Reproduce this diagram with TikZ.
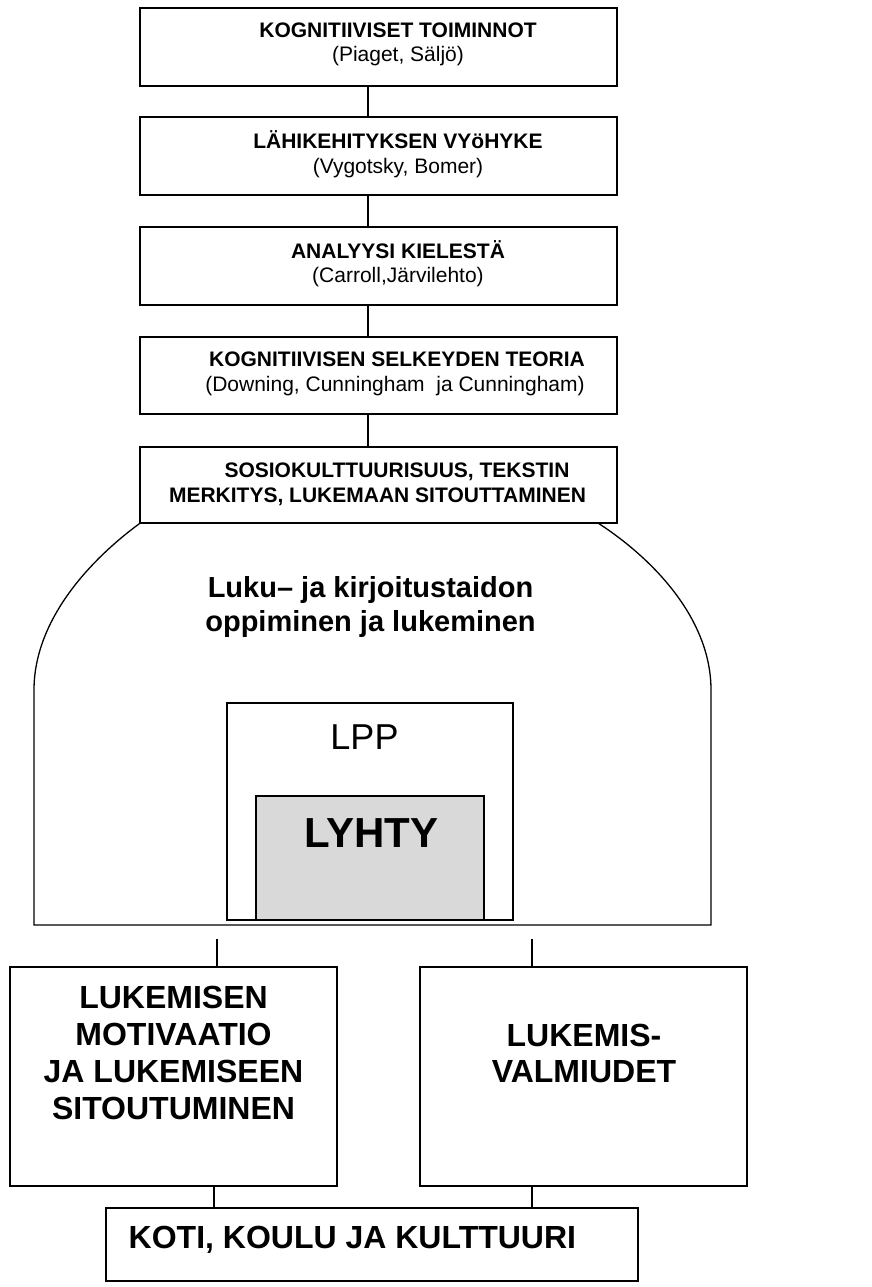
\documentclass[tikz,border=0pt]{standalone}
\usepackage{fontspec}
\setmainfont{Liberation Sans}
\begin{document}
\begin{tikzpicture}[x=1pt,y=-1pt,
  box/.style={draw=black, line width=1.5pt, rectangle, inner sep=0pt, fill=white},
  conn/.style={draw=black, line width=1.3pt},
  txt/.style={anchor=base, inner sep=0pt, align=center},
  hsmall/.style={font=\fontsize{21}{25}\selectfont\bfseries},
  rsmall/.style={font=\fontsize{21}{25}\selectfont},
  hbig/.style={font=\fontsize{32}{37}\selectfont\bfseries},
  htitle/.style={font=\fontsize{29}{34}\selectfont\bfseries}]
\useasboundingbox (0,0) rectangle (871,1287);
% top chain of boxes
\node[box, minimum width=477, minimum height=78] (b1) at (378.5,47) {};
\node[box, minimum width=477, minimum height=78] (b2) at (378.5,156) {};
\node[box, minimum width=477, minimum height=78] (b3) at (378.5,266) {};
\node[box, minimum width=477, minimum height=77] (b4) at (378.5,375.5) {};
\node[box, minimum width=477, minimum height=76] (b5) at (378.5,485) {};
% connectors
\draw[conn] (368,0 |- b1.south) -- (368,0 |- b2.north);
\draw[conn] (368,0 |- b2.south) -- (368,0 |- b3.north);
\draw[conn] (368,0 |- b3.south) -- (368,0 |- b4.north);
\draw[conn] (368,0 |- b4.south) -- (368,0 |- b5.north);
% texts
\node[txt, hsmall] (t1a) at (398,38) {KOGNITIIVISET TOIMINNOT};
\node[txt, rsmall] (t1b) at (398,62) {(Piaget, Säljö)};
\node[txt, hsmall] (t2a) at (398,148) {LÄHIKEHITYKSEN VYöHYKE};
\node[txt, rsmall] (t2b) at (398,173) {(Vygotsky, Bomer)};
\node[txt, hsmall] (t3a) at (398,258) {ANALYYSI KIELESTÄ};
\node[txt, rsmall] (t3b) at (398,282) {(Carroll,Järvilehto)};
\node[txt, hsmall] (t4a) at (397,366) {KOGNITIIVISEN SELKEYDEN TEORIA};
\node[txt, rsmall] (t4b) at (395,391) {(Downing, Cunningham\ \ ja Cunningham)};
\node[txt, hsmall] (t5a) at (397,477) {SOSIOKULTTUURISUUS, TEKSTIN};
\node[txt, hsmall] (t5b) at (377.5,502) {MERKITYS, LUKEMAAN SITOUTTAMINEN};
% arch
\coordinate (archR) at (598,523);
\draw[line width=1.3pt, line join=miter]
  (b5.south west) .. controls (90,560) and (34,620) .. (34,690)
  -- (34,925) -- (711,925) -- (711,690)
  .. controls (711,620) and (655,560) .. (archR);
\node[txt, htitle] (title1) at (370.5,597) {Luku– ja kirjoitustaidon};
\node[txt, htitle] (title2) at (370.5,631) {oppiminen ja lukeminen};
% LPP and LYHTY
\node[box, line width=1.3pt, minimum width=286, minimum height=217] (lpp) at (370,811.5) {};
\node[box, line width=1.3pt, fill={rgb,255:red,217;green,217;blue,217}, minimum width=228, minimum height=124] (lyhty) at (370,858) {};
\node[txt, font=\fontsize{36}{40}\selectfont] (lpptxt) at (364.5,749) {LPP};
\node[txt, font=\fontsize{42}{46}\selectfont\bfseries] (lyhtytxt) at (371.5,847) {LYHTY};
% lower boxes
\coordinate (cL) at (217,939);
\coordinate (cR) at (532,939);
\node[box, minimum width=327, minimum height=219] (lb) at (173.5,1076.5) {};
\node[box, minimum width=327, minimum height=219] (rb) at (583.5,1076.5) {};
\node[box, minimum width=532, minimum height=73] (bb) at (372,1244.5) {};
\draw[conn] (cL) -- (217,0 |- lb.north);
\draw[conn] (cR) -- (532,0 |- rb.north);
\draw[conn] (214,0 |- lb.south) -- (214,0 |- bb.north);
\draw[conn] (532,0 |- rb.south) -- (532,0 |- bb.north);
\node[txt, hbig] (l1) at (173.5,1008) {LUKEMISEN};
\node[txt, hbig] (l2) at (173.5,1045) {MOTIVAATIO};
\node[txt, hbig] (l3) at (173.5,1082) {JA LUKEMISEEN};
\node[txt, hbig] (l4) at (173.5,1119) {SITOUTUMINEN};
\node[txt, hbig] (r1) at (584,1046) {LUKEMIS-};
\node[txt, hbig] (r2) at (584,1082) {VALMIUDET};
\node[hbig, anchor=base west, inner sep=0pt] (bt) at (128.5,1248) {KOTI, KOULU JA KULTTUURI};
\end{tikzpicture}
\end{document}
